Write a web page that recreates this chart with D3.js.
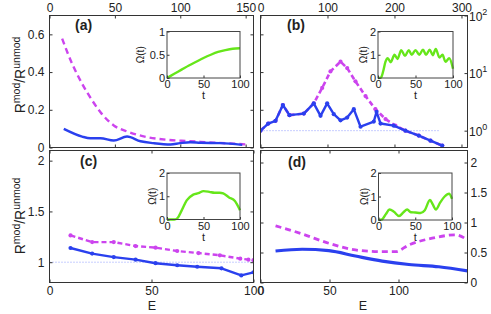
<!DOCTYPE html>
<html>
<head>
<meta charset="utf-8">
<script src="https://cdn.jsdelivr.net/npm/d3@7"></script>
<style>
  body { margin: 0; background: #fff; }
  text { font-family: "Liberation Sans", Arial, sans-serif; fill: #222; }
</style>
</head>
<body>
<div id="okvir"></div>
<script>
// 1. Podaci (ocitani sa slike)
// panel (a)
const aSolidE = [7, 16, 20, 25, 31.5, 38, 44.6, 51, 59.3, 64, 69, 74, 84, 94.5]
const aSolidR = [0.099, 0.058, 0.049, 0.049, 0.037, 0.058, 0.033, 0.023, 0.016, 0.023, 0.028, 0.025, 0.023, 0.014]
const aDashE = [6.2, 11.1, 16, 20.9, 25, 31.5, 38, 47.9, 57.7, 67.5, 77.3, 90.4, 97]
const aDashR = [0.577, 0.444, 0.338, 0.25, 0.187, 0.117, 0.085, 0.055, 0.041, 0.034, 0.028, 0.02, 0.016]
// panel (b)
const bSolidE = [0, 5.6, 10.9, 16.2, 21, 31.4, 38.6, 43.5, 48.3, 53.1, 58, 62.8, 67.6, 72.5, 82.1, 84.1, 87, 96.6, 105, 114.7, 123.2, 131.7]
const bSolidR = [1.0, 1.33, 1.48, 2.79, 1.86, 1.98, 2.98, 1.81, 2.98, 1.93, 1.51, 1.69, 2.36, 1.17, 1.44, 2.12, 1.33, 1.22, 1.0, 0.82, 0.67, 0.55]
const bDashE = [0, 5.6, 10.9, 16.2, 21, 31.4, 38.6, 44.7, 50.7, 58, 62.8, 68.8, 76.1, 83.3, 90.6, 97.8, 105, 114.7, 123.2, 131.7]
const bDashR = [1.0, 1.33, 1.48, 2.79, 1.86, 1.98, 2.98, 5.53, 10.7, 15.8, 12.2, 7.2, 3.98, 2.36, 1.59, 1.22, 1.0, 0.82, 0.67, 0.55]
const bRefE = [0, 129]
// panel (c)
const cSolidE = [10.3, 20.9, 31.5, 42.2, 52, 62.6, 72.4, 84.3, 94, 100]
const cSolidR = [1.14, 1.085, 1.05, 1.025, 0.99, 0.97, 0.955, 0.94, 0.87, 0.9]
const cDashE = [10.3, 20.9, 31.5, 42.2, 52, 62.6, 73, 83.5, 93.5, 97.5, 100]
const cDashR = [1.264, 1.198, 1.198, 1.159, 1.143, 1.11, 1.09, 1.068, 1.035, 1.025, 1.02]
const cRefE = [0, 100]
// panel (d)
const dSolidE = [10.9, 30.2, 49.5, 68.8, 88.2, 107.5, 129.2, 150]
const dSolidR = [0.525, 0.554, 0.53, 0.441, 0.357, 0.30, 0.262, 0.195]
const dDashE = [10.9, 30.2, 49.5, 68.8, 88.2, 97.8, 107.5, 124.4, 141.3, 150]
const dDashR = [0.945, 0.81, 0.654, 0.542, 0.513, 0.513, 0.626, 0.738, 0.794, 0.71]

// umetci Omega(t)
const insAT = [0, 10, 20, 30, 40, 50, 60, 70, 80, 90, 100]
const insAW = [0, 0.09, 0.18, 0.27, 0.35, 0.43, 0.5, 0.56, 0.6, 0.63, 0.64]
const insBT = [0, 4, 7, 10, 13, 17, 22, 26, 31, 36, 41, 45, 50, 55, 60, 64, 69, 73, 77, 82, 86, 90, 95, 100]
const insBW = [0, 0.02, 0.3, 0.7, 0.85, 0.68, 1.0, 0.82, 1.2, 0.95, 1.2, 1.0, 1.2, 1.0, 1.22, 1.0, 1.22, 0.98, 1.25, 0.88, 1.0, 0.7, 0.85, 0.4]
const insCT = [0, 10, 14, 20, 27, 36, 43, 50, 58, 65, 72, 77, 85, 93, 100]
const insCW = [0, 0, 0.05, 0.38, 0.82, 1.07, 1.13, 1.22, 1.19, 1.15, 1.15, 1.12, 0.95, 0.8, 0.4]
const insDT = [0, 5, 10, 15, 21, 28, 34, 39, 44, 50, 57, 63, 70, 74, 78, 84, 90, 96, 100]
const insDW = [0, 0.03, 0.25, 0.45, 0.35, 0.17, 0.33, 0.45, 0.33, 0.32, 0.3, 0.42, 0.85, 0.65, 0.45, 0.75, 1.0, 1.12, 0.9]

// oznake osi
const aYTicks = [0, 0.2, 0.4, 0.6]
const aTopTicks = [0, 50, 100, 150]
const bTopTicks = [0, 100, 200, 300]
const bLogTicks = [1, 10, 100]
const cYTicks = [1, 1.5, 2]
const dYTicks = [0, 0.5, 1, 1.5, 2]
const eTicks = [0, 50, 100]
const insTTicks = [0, 50, 100]
const insATicks = [0, 0.5, 1]
const insTicks = [0, 1, 2]

const plava = "#2a40ee"
const ljubicasta = "#cc44ee"
const zelena = "#66e61a"

// 2. Platno
const svg = d3.select("#okvir").append("svg")
  .attr("width", 491)
  .attr("height", 314)
const defs = svg.append("defs")

// 3. Razmjeri
const xA = d3.scaleLinear().domain([0, 100]).range([49.5, 253.5])
const xATop = d3.scaleLinear().domain([0, 156]).range([49.5, 253.5])
const yA = d3.scaleLinear().domain([0, 0.7]).range([147.5, 15.5])
const xB = d3.scaleLinear().domain([0, 150]).range([260.5, 467.5])
const xBTop = d3.scaleLinear().domain([0, 309]).range([260.5, 467.5])
const yB = d3.scaleLog().domain([0.51, 100]).range([147.5, 15.5])
const xC = d3.scaleLinear().domain([0, 100]).range([49.5, 253.5])
const yC = d3.scaleLinear().domain([0.8, 2.1]).range([282.5, 150.5])
const xD = d3.scaleLinear().domain([0, 150]).range([260.5, 467.5])
const yD = d3.scaleLinear().domain([0, 2.2]).range([282.5, 150.5])

function okvir(id, x, y) {
  const [x0, x1] = x.range()
  const [y1, y0] = y.range()
  defs.append("clipPath").attr("id", "clip-" + id)
    .append("rect").attr("x", x0).attr("y", y0).attr("width", x1 - x0).attr("height", y1 - y0)
  svg.append("rect").attr("x", x0).attr("y", y0).attr("width", x1 - x0).attr("height", y1 - y0)
    .attr("fill", "#fff")
  return svg.append("g").attr("clip-path", `url(#clip-${id})`)
}

function ruba(x, y) {
  const [x0, x1] = x.range()
  const [y1, y0] = y.range()
  svg.append("rect").attr("x", x0).attr("y", y0).attr("width", x1 - x0).attr("height", y1 - y0)
    .attr("fill", "none").attr("stroke", "#333").attr("stroke-width", 1)
}

function os(generator, transform, size) {
  const g = svg.append("g").attr("transform", transform).call(generator)
  g.select(".domain").remove()
  g.selectAll(".tick line").attr("stroke", "#333")
  g.selectAll("text").attr("fill", "#222").style("font-size", (size || 12) + "px")
    .style("font-family", '"Liberation Sans", Arial, sans-serif')
  return g
}

function crtaj(g, xs, ys, E, R, boja, opt) {
  const podaci = d3.zip(E, R)
  const linija = d3.line().x(d => xs(d[0])).y(d => ys(d[1])).curve(opt.curve || d3.curveLinear)
  g.append("path").datum(podaci)
    .attr("d", linija)
    .attr("fill", "none")
    .attr("stroke", boja)
    .attr("stroke-width", opt.w || 2.4)
    .attr("stroke-dasharray", opt.dash || null)
    .attr("stroke-linejoin", "round")
  if (opt.marker) {
    g.selectAll(null).data(podaci).join("circle")
      .attr("cx", d => xs(d[0])).attr("cy", d => ys(d[1]))
      .attr("r", 2.1).attr("fill", boja)
  }
}

function referenca(g, xs, ys, E) {
  g.append("line")
    .attr("x1", xs(E[0])).attr("x2", xs(E[1]))
    .attr("y1", ys(1)).attr("y2", ys(1))
    .attr("stroke", "#8f9cff").attr("stroke-width", 1).attr("stroke-dasharray", "1,2")
}

function umetak(x0, x1, y0, y1, yMax, yTicks, T, W, omegaOff) {
  const x = d3.scaleLinear().domain([0, 100]).range([x0, x1])
  const y = d3.scaleLinear().domain([0, yMax]).range([y1, y0])
  svg.append("rect").attr("x", x0).attr("y", y0).attr("width", x1 - x0).attr("height", y1 - y0)
    .attr("fill", "#fff")
  const linija = d3.line().x(d => x(d[0])).y(d => y(d[1])).curve(d3.curveMonotoneX)
  svg.append("path").datum(d3.zip(T, W))
    .attr("d", linija).attr("fill", "none").attr("stroke", zelena).attr("stroke-width", 2.4)
  os(d3.axisLeft(y).tickValues(yTicks).tickSize(-2.5).tickPadding(2).tickFormat(d3.format("")), `translate(${x0},0)`, 11)
  os(d3.axisBottom(x).tickValues(insTTicks).tickSize(-2.5).tickPadding(2.5), `translate(0,${y1})`, 11)
  svg.append("rect").attr("x", x0).attr("y", y0).attr("width", x1 - x0).attr("height", y1 - y0)
    .attr("fill", "none").attr("stroke", "#444").attr("stroke-width", 1)
  svg.append("text")
    .attr("transform", `translate(${x0 - omegaOff},${(y0 + y1) / 2}) rotate(-90)`)
    .attr("text-anchor", "middle").style("font-size", "10px").text("Ω(t)")
  svg.append("text").attr("x", (x0 + x1) / 2).attr("y", y1 + 21)
    .attr("text-anchor", "middle").style("font-size", "11px").text("t")
}

function oznakaPanela(tekst, x, y) {
  svg.append("text").attr("x", x).attr("y", y)
    .style("font-size", "14px").style("font-weight", "bold").text(tekst)
}

function yOznaka(cy) {
  const t = svg.append("text")
    .attr("transform", `translate(25,${cy}) rotate(-90)`)
    .attr("text-anchor", "middle")
    .style("font-size", "14px")
  t.append("tspan").text("R")
  t.append("tspan").attr("dy", -5).style("font-size", "10.5px").text("mod")
  t.append("tspan").attr("dy", 5).text("/R")
  t.append("tspan").attr("dy", -5).style("font-size", "10.5px").text("unmod")
}

// 4. Panel (a)
const gA = okvir("a", xA, yA)
crtaj(gA, xA, yA, aDashE, aDashR, ljubicasta, { dash: "6,4", curve: d3.curveMonotoneX })
crtaj(gA, xA, yA, aSolidE, aSolidR, plava, { curve: d3.curveMonotoneX })
os(d3.axisLeft(yA).tickValues(aYTicks).tickSize(-3).tickPadding(5).tickFormat(d3.format("")), `translate(49.5,0)`)
os(d3.axisRight(yA).tickValues(aYTicks).tickSize(-3).tickFormat(""), `translate(253.5,0)`)
os(d3.axisTop(xATop).tickValues(aTopTicks).tickSize(-3).tickPadding(3.5), `translate(0,15.5)`)
os(d3.axisBottom(xATop).tickValues(aTopTicks).tickSize(-3).tickFormat(""), `translate(0,147.5)`)
ruba(xA, yA)
umetak(167, 240, 31.5, 78, 1, insATicks, insAT, insAW, 23)
oznakaPanela("(a)", 75, 30)
yOznaka(75)

// 5. Panel (b)
const gB = okvir("b", xB, yB)
referenca(gB, xB, yB, bRefE)
crtaj(gB, xB, yB, bDashE, bDashR, ljubicasta, { dash: "5,3", marker: true, w: 2.6 })
crtaj(gB, xB, yB, bSolidE, bSolidR, plava, { marker: true, w: 2.4 })
os(d3.axisTop(xBTop).tickValues(bTopTicks).tickSize(-3).tickPadding(3.5), `translate(0,15.5)`)
os(d3.axisBottom(xBTop).tickValues(bTopTicks).tickSize(-3).tickFormat(""), `translate(0,147.5)`)
os(d3.axisRight(yB).tickValues(bLogTicks).tickSize(-3).tickFormat(""), `translate(467.5,0)`)
os(d3.axisLeft(yA).tickValues(aYTicks).tickSize(-3).tickFormat(""), `translate(260.5,0)`)
ruba(xB, yB)
const logOznake = svg.append("g").selectAll("text").data(bLogTicks).join("text")
  .attr("x", 469).attr("y", d => yB(d) + 5).style("font-size", "12px")
logOznake.append("tspan").text("10")
logOznake.append("tspan").attr("dy", -6).style("font-size", "9px").text(d => Math.round(Math.log10(d)))
umetak(378, 453, 31.5, 78, 2, insTicks, insBT, insBW, 11)
oznakaPanela("(b)", 287, 30)

// 6. Panel (c)
const gC = okvir("c", xC, yC)
referenca(gC, xC, yC, cRefE)
crtaj(gC, xC, yC, cDashE, cDashR, ljubicasta, { dash: "5,3", marker: true, w: 2.4 })
crtaj(gC, xC, yC, cSolidE, cSolidR, plava, { marker: true, w: 2.4 })
os(d3.axisLeft(yC).tickValues(cYTicks).tickSize(-3).tickPadding(5).tickFormat(d3.format("")), `translate(49.5,0)`)
os(d3.axisRight(yC).tickValues(cYTicks).tickSize(-3).tickFormat(""), `translate(253.5,0)`)
os(d3.axisBottom(xC).tickValues(eTicks).tickSize(-3).tickPadding(4), `translate(0,282.5)`)
os(d3.axisTop(xC).tickValues(eTicks).tickSize(-3).tickFormat(""), `translate(0,150.5)`)
ruba(xC, yC)
umetak(167, 240, 173, 219.5, 2, insTicks, insCT, insCW, 11)
oznakaPanela("(c)", 80, 166)
yOznaka(216)
svg.append("text").attr("x", 152).attr("y", 309.5).attr("text-anchor", "middle")
  .style("font-size", "12.5px").text("E")

// 7. Panel (d)
const gD = okvir("d", xD, yD)
crtaj(gD, xD, yD, dDashE, dDashR, ljubicasta, { dash: "6,4", w: 2.8, curve: d3.curveMonotoneX })
crtaj(gD, xD, yD, dSolidE, dSolidR, plava, { w: 3.2, curve: d3.curveMonotoneX })
os(d3.axisRight(yD).tickValues(dYTicks).tickSize(-3).tickPadding(3).tickFormat(d3.format("")), `translate(467.5,0)`)
os(d3.axisLeft(yD).tickValues(dYTicks).tickSize(-3).tickFormat(""), `translate(260.5,0)`)
os(d3.axisBottom(xD).tickValues(eTicks).tickSize(-3).tickPadding(4), `translate(0,282.5)`)
os(d3.axisTop(xD).tickValues(eTicks).tickSize(-3).tickFormat(""), `translate(0,150.5)`)
ruba(xD, yD)
umetak(378.5, 452, 173, 220, 2, insTicks, insDT, insDW, 11)
oznakaPanela("(d)", 288, 167)
svg.append("text").attr("x", 363).attr("y", 309.5).attr("text-anchor", "middle")
  .style("font-size", "12.5px").text("E")
</script>
</body>
</html>
